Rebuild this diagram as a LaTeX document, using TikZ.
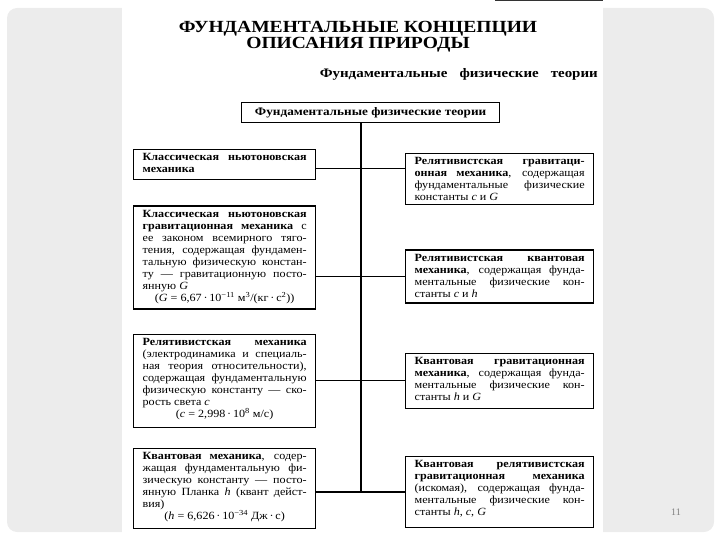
\documentclass[tikz,border=0pt]{standalone}
\usepackage{fontspec}
\setmainfont[FakeStretch=1.15]{Liberation Serif}
\newfontfamily\boxfont[FakeStretch=1.1]{Liberation Serif}
\newfontfamily\numfont{Liberation Serif}
\usetikzlibrary{positioning}
\definecolor{slidegray}{HTML}{ECECEC}
\definecolor{pagenum}{HTML}{808080}
% box text: width, height, contents
\newcommand{\boxtxt}[3]{\parbox[c][#2][t]{#1}{\boxfont\fontsize{11}{12}\selectfont
  \tolerance=10000\hyphenpenalty=10000\parindent=0pt #3}}

\begin{document}
\begin{tikzpicture}[x=1pt,y=-1pt,
  titlef/.style={font=\fontsize{17}{16}\selectfont\bfseries,anchor=north,inner sep=0pt,align=center},
  subt/.style={font=\fontsize{13}{14}\selectfont\bfseries,anchor=base east,inner sep=0pt},
  topbox/.style={draw,line width=1.3pt,minimum width=258pt,minimum height=20pt,anchor=north west,
    font=\fontsize{11.5}{13}\selectfont\bfseries},
  tbox/.style={draw,line width=1.3pt,inner xsep=9pt,inner ysep=4pt,anchor=north west},
  conn/.style={line width=1.2pt}
]
  \useasboundingbox (0,0) rectangle (720,540);
  \fill[slidegray,rounded corners=10pt] (7,8) rectangle (714,532);
  \fill[white] (122,0) rectangle (603,540);
  \draw[line width=1.5pt,black!80] (495,0.75) -- (603,0.75);

  \node[titlef] (title) at (358,21) {ФУНДАМЕНТАЛЬНЫЕ КОНЦЕПЦИИ\\ОПИСАНИЯ ПРИРОДЫ};
  \node[subt] (st) at (598,78) {\makebox[278pt][s]{Фундаментальные физические теории}};
  \node[topbox] (ft) at (241,102) {Фундаментальные физические теории};

  % left column
  \node[tbox] (l1) at (133,149) {\boxtxt{164pt}{22pt}{\textbf{Классическая ньютоновская\linebreak механика}}};
  \node[tbox,below=25pt of l1.south west,anchor=north west] (l2) {\boxtxt{164pt}{95pt}{%
    \textbf{Классическая ньютоновская\linebreak гравитационная механика} с\linebreak
    ее законом всемирного тяго-\linebreak тения, содержащая фундамен-\linebreak
    тальную физическую констан-\linebreak ту — гравитационную посто-\linebreak
    янную \textit{G}\par\centering(\textit{G} = 6,67\,·\,10\textsuperscript{−11} м\textsuperscript{3}/(кг\,·\,с\textsuperscript{2}))}};
  \node[tbox,below=24pt of l2.south west,anchor=north west] (l3) {\boxtxt{164pt}{85pt}{%
    \textbf{Релятивистская механика}\linebreak (электродинамика и специаль-\linebreak
    ная теория относительности),\linebreak содержащая фундаментальную\linebreak
    физическую константу — ско-\linebreak рость света \textit{c}\par
    \centering(\textit{c} = 2,998\,·\,10\textsuperscript{8} м/с)}};
  \node[tbox,below=20pt of l3.south west,anchor=north west] (l4) {\boxtxt{164pt}{72pt}{%
    \textbf{Квантовая механика}, содер-\linebreak жащая фундаментальную фи-\linebreak
    зическую константу — посто-\linebreak янную Планка \textit{h} (квант дейст-\linebreak
    вия)\par\centering(\textit{h} = 6,626\,·\,10\textsuperscript{−34} Дж\,·\,с)}};

  % right column
  \node[tbox] (r1) at (405,153) {\boxtxt{170pt}{43pt}{%
    \textbf{Релятивистская гравитаци-\linebreak онная механика}, содержащая\linebreak
    фундаментальные физические\linebreak константы \textit{c} и \textit{G}}};
  \node[tbox,below=44pt of r1.south west,anchor=north west] (r2) {\boxtxt{170pt}{45pt}{%
    \textbf{Релятивистская квантовая\linebreak механика}, содержащая фунда-\linebreak
    ментальные физические кон-\linebreak станты \textit{c} и \textit{h}}};
  \node[tbox,below=49pt of r2.south west,anchor=north west] (r3) {\boxtxt{170pt}{47pt}{%
    \textbf{Квантовая гравитационная\linebreak механика}, содержащая фунда-\linebreak
    ментальные физические кон-\linebreak станты \textit{h} и \textit{G}}};
  \node[tbox,below=47pt of r3.south west,anchor=north west] (r4) {\boxtxt{170pt}{63pt}{%
    \textbf{Квантовая релятивистская\linebreak гравитационная механика}\linebreak
    (искомая), содержащая фунда-\linebreak ментальные физические кон-\linebreak
    станты \textit{h}, \textit{c}, \textit{G}}};

  % connectors
  \coordinate (sp) at (361,0);
  \draw[conn] (ft.south -| sp) -- (sp |- r4.west);
  \draw[conn] ([yshift=-4pt]l1.east) -- ([yshift=-4pt]l1.east -| r1.west);
  \draw[conn] (l2.east |- r2.west) -- (r2.west);
  \draw[conn] (l3.east |- r3.west) -- (r3.west);
  \draw[conn] (l4.east |- r4.west) -- (r4.west);

  \node[text=pagenum,font=\numfont\fontsize{10}{12}\selectfont] (pg) at (676,512) {11};
\end{tikzpicture}
\end{document}
